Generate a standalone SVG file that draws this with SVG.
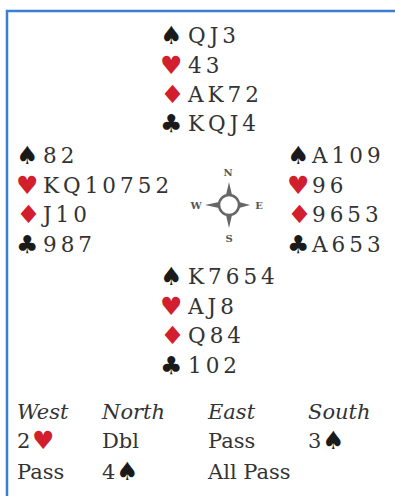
<svg xmlns="http://www.w3.org/2000/svg" width="395" height="496" viewBox="0 0 395 496">
<style>
.c{font-family:"DejaVu Serif","Liberation Serif",serif;font-size:21.5px;fill:#333;letter-spacing:4px}
.s{font-family:"DejaVu Sans",sans-serif;font-size:25px}
.bs{font-family:"DejaVu Sans",sans-serif;font-size:25px}
.r{fill:#d21f2d}
.k{fill:#1a1a1a}
.b{font-family:"DejaVu Serif","Liberation Serif",serif;font-size:21px;fill:#333}
.i{font-style:italic}
.cp{font-family:"DejaVu Serif",serif;font-size:10px;font-weight:bold;fill:#555;text-anchor:middle}
</style>
<rect width="395" height="496" fill="#fff"/>
<path d="M7 496 V11 H395" fill="none" stroke="#3b7fd3" stroke-width="2.5"/>
<g id="north">
<text class="s k" x="160" y="44">♠</text><text class="c" x="188" y="43">QJ3</text>
<text class="s r" x="160" y="74">♥</text><text class="c" x="188" y="73">43</text>
<text class="s r" transform="translate(160 103) scale(1.12 1)">♦</text><text class="c" x="188" y="102">AK72</text>
<text class="s k" x="160" y="132">♣</text><text class="c" x="188" y="131">KQJ4</text>
</g>
<g id="west">
<text class="s k" x="16" y="164">♠</text><text class="c" x="43" y="163">82</text>
<text class="s r" x="16" y="194">♥</text><text class="c" x="43" y="193">KQ10752</text>
<text class="s r" transform="translate(16 223) scale(1.12 1)">♦</text><text class="c" x="43" y="222">J10</text>
<text class="s k" x="16" y="253">♣</text><text class="c" x="43" y="252">987</text>
</g>
<g id="east">
<text class="s k" x="287" y="164">♠</text><text class="c" x="312" y="163">A109</text>
<text class="s r" x="287" y="194">♥</text><text class="c" x="312" y="193">96</text>
<text class="s r" transform="translate(287 223) scale(1.12 1)">♦</text><text class="c" x="312" y="222">9653</text>
<text class="s k" x="287" y="253">♣</text><text class="c" x="312" y="252">A653</text>
</g>
<g id="south">
<text class="s k" x="160" y="285">♠</text><text class="c" x="188" y="284">K7654</text>
<text class="s r" x="160" y="315">♥</text><text class="c" x="188" y="314">AJ8</text>
<text class="s r" transform="translate(160 344) scale(1.12 1)">♦</text><text class="c" x="188" y="343">Q84</text>
<text class="s k" x="160" y="374">♣</text><text class="c" x="188" y="373">102</text>
</g>
<g id="compass">
<path d="M226 195 L229 182 L232 195 Z M226 215 L229 228 L232 215 Z M219 202 L205 205 L219 208 Z M239 202 L250 205 L239 208 Z" fill="#666"/>
<circle cx="229" cy="205" r="10" fill="#fff" stroke="#666" stroke-width="2.5"/>
<text class="cp" x="228" y="176">N</text>
<text class="cp" x="229" y="242">S</text>
<text class="cp" x="196" y="209">W</text>
<text class="cp" x="259" y="209">E</text>
</g>
<g id="bidding">
<text class="b i" x="17" y="419">West</text>
<text class="b i" x="102" y="419">North</text>
<text class="b i" x="208" y="419">East</text>
<text class="b i" x="308" y="419">South</text>
<text class="b" x="17" y="448">2</text><text class="bs r" x="32" y="449">♥</text>
<text class="b" x="102" y="448">Dbl</text>
<text class="b" x="208" y="448">Pass</text>
<text class="b" x="308" y="448">3</text><text class="bs k" x="322" y="449">♠</text>
<text class="b" x="17" y="479">Pass</text>
<text class="b" x="102" y="479">4</text><text class="bs k" x="116" y="480">♠</text>
<text class="b" x="208" y="479">All Pass</text>
</g>
</svg>
